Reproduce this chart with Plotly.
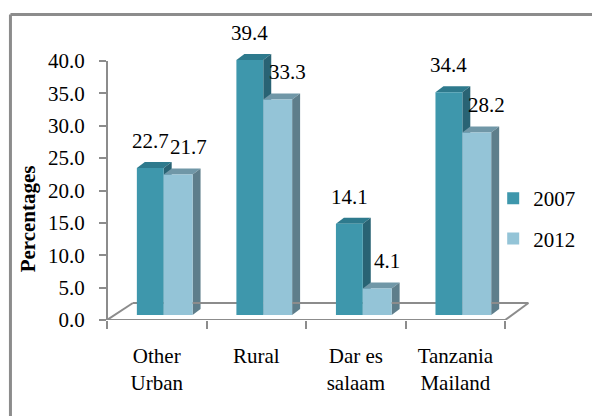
import plotly.graph_objects as go

# ---- data ----
categories = ["Other<br>Urban", "Rural", "Dar es<br>salaam", "Tanzania<br>Mailand"]
series_names = ["2007", "2012"]
values_2007 = [22.7, 39.4, 14.1, 34.4]
values_2012 = [21.7, 33.3, 4.1, 28.2]
y_tick_values = [0, 5, 10, 15, 20, 25, 30, 35, 40]
y_title = "Percentages"

series_values = [values_2007, values_2012]

# ---- style ----
FONT = "Liberation Serif, Times New Roman, serif"
front = ["#3E97AC", "#94C4D7"]
top_c = ["#2E7A8D", "#7097A7"]
side_c = ["#296374", "#5E7E8B"]
GRAY = "#8C8C8C"

W, H = 592, 416
L, R, T, B = 107, 55, 20, 96
xmin, xmax = -0.5, 3.8
plot_w = W - L - R
plot_h = H - T - B
px_per_x = plot_w / (xmax - xmin)
px_per_y = 6.475
ymax = plot_h / px_per_y
bar_shift = 5 / px_per_y          # bars' front plane sits slightly behind floor edge

offsets = [-0.2, 0.07]
widths = [0.27, 0.29]
dx = 8 / px_per_x                  # 3D depth
dy = 6 / px_per_y
label_dx = [0.0, 0.1]
floor_dx = 26 / px_per_x
floor_dy = 17 / px_per_y

def px_to_paper_x(px):
    return (px - L) / plot_w

def px_to_paper_y(py):
    return (H - B - py) / plot_h

fig = go.Figure()
shapes = []
annotations = []

for i, (name, vals) in enumerate(zip(series_names, series_values)):
    fig.add_trace(go.Bar(
        x=categories, y=vals, name=name, offset=offsets[i], width=widths[i],
        marker=dict(color=front[i], line=dict(width=0)), yaxis="y2",
        legendgroup=name, hoverinfo="x+y+name",
    ))

# 3D faces (top and side) computed from data, drawn below the bars
for i, vals in enumerate(series_values):
    for j, v in enumerate(vals):
        x0 = j + offsets[i]
        x1 = x0 + widths[i]
        shapes.append(dict(
            type="path", xref="x", yref="y2", layer="below",
            path=f"M {x0},{v} L {x1},{v} L {x1+dx},{v+dy} L {x0+dx},{v+dy} Z",
            fillcolor=top_c[i], line=dict(width=0)))
        shapes.append(dict(
            type="path", xref="x", yref="y2", layer="below",
            path=f"M {x1},0 L {x1+dx},{dy} L {x1+dx},{v+dy} L {x1},{v} Z",
            fillcolor=side_c[i], line=dict(width=0)))
        annotations.append(dict(
            x=x0 + widths[i] / 2 + label_dx[i], y=v + dy, xref="x", yref="y2",
            text=f"{v:.1f}", showarrow=False, yanchor="bottom", yshift=7,
            font=dict(family=FONT, size=21, color="black")))

# floor
n = len(categories)
fl = dict(color=GRAY, width=2)
shapes += [
    dict(type="line", xref="x", yref="y", x0=-0.5, x1=n - 0.5, y0=0, y1=0, line=fl, layer="below"),
    dict(type="line", xref="x", yref="y", x0=-0.5, x1=-0.5 + floor_dx, y0=0, y1=floor_dy, line=fl, layer="below"),
    dict(type="line", xref="x", yref="y", x0=n - 0.5, x1=n - 0.5 + floor_dx * 0.9, y0=0, y1=floor_dy, line=fl, layer="below"),
    dict(type="line", xref="x", yref="y", x0=-0.5 + floor_dx, x1=n - 0.5 + floor_dx * 0.9, y0=floor_dy, y1=floor_dy, line=fl, layer="below"),
    # y axis line
    dict(type="line", xref="paper", yref="y", x0=0, x1=0, y0=0, y1=y_tick_values[-1], line=fl),
    # outer border
    dict(type="line", xref="paper", yref="paper", x0=px_to_paper_x(10), x1=px_to_paper_x(10),
         y0=px_to_paper_y(430), y1=px_to_paper_y(14.5), line=dict(color=GRAY, width=3)),
    dict(type="line", xref="paper", yref="paper", x0=px_to_paper_x(10), x1=px_to_paper_x(620),
         y0=px_to_paper_y(14.5), y1=px_to_paper_y(14.5), line=dict(color=GRAY, width=3)),
]

annotations.append(dict(
    x=px_to_paper_x(28), y=px_to_paper_y(219), xref="paper", yref="paper",
    xanchor="center", yanchor="middle",
    text=f"<b>{y_title}</b>", textangle=-90, showarrow=False,
    font=dict(family=FONT, size=21, color="black")))

fig.update_layout(
    width=W, height=H, margin=dict(l=L, r=R, t=T, b=B),
    paper_bgcolor="white", plot_bgcolor="rgba(0,0,0,0)",
    barmode="overlay",
    font=dict(family=FONT, size=21, color="black"),
    xaxis=dict(type="category", range=[xmin, xmax], showline=False, showgrid=False,
               zeroline=False, ticks="outside", tickson="boundaries", ticklen=8,
               tickwidth=2, tickcolor=GRAY, ticklabelstandoff=21,
               tickfont=dict(family=FONT, size=21, color="black")),
    yaxis=dict(range=[0, ymax], tickmode="array", tickvals=y_tick_values,
               ticktext=[f"{v:.1f}" for v in y_tick_values], showline=False,
               showgrid=False, zeroline=False, ticks="outside", ticklen=7,
               tickwidth=2, tickcolor=GRAY, ticklabelstandoff=10,
               tickfont=dict(family=FONT, size=21, color="black")),
    yaxis2=dict(range=[-bar_shift, ymax - bar_shift], overlaying="y", visible=False),
    legend=dict(x=px_to_paper_x(495), y=px_to_paper_y(178), xanchor="left", yanchor="top",
                traceorder="grouped", tracegroupgap=10, bgcolor="rgba(0,0,0,0)",
                font=dict(family=FONT, size=21, color="black")),
    shapes=shapes, annotations=annotations,
    showlegend=True,
)

fig.write_html("out.html", config={"displayModeBar": False},
               post_script="document.body.style.margin='0';")
